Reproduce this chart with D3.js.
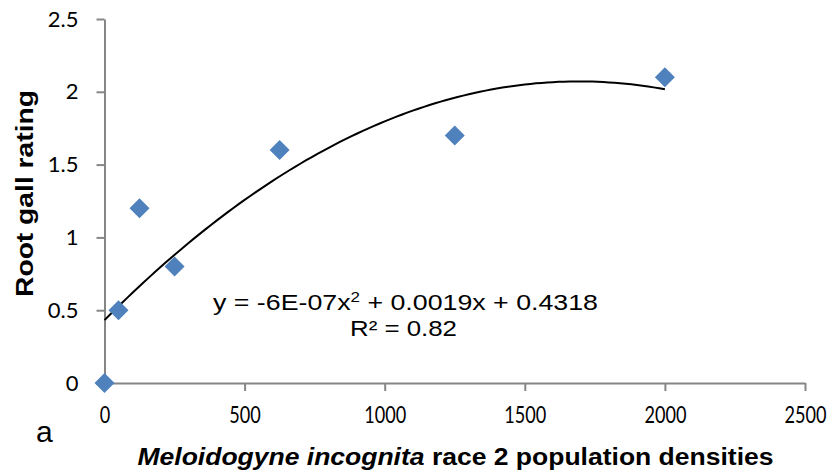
<!DOCTYPE html>
<html>
<head>
<meta charset="utf-8">
<title>Root gall rating</title>
<script src="https://d3js.org/d3.v7.min.js"></script>
<style>
  body { margin: 0; background: #fff; }
  .tick text { font-family: Lato, "Open Sans", sans-serif; fill: #000; }
  .ttl { font-family: "Liberation Sans", Arial, sans-serif; fill: #000; }
</style>
</head>
<body>
<svg id="chart" width="836" height="476"></svg>
<script>
// data
var densities = [0, 50, 125, 250, 625, 1250, 2000];
var gallRating = [0, 0.5, 1.2, 0.8, 1.6, 1.7, 2.1];
var xTicks = [0, 500, 1000, 1500, 2000, 2500];
var yTicks = [0, 0.5, 1, 1.5, 2, 2.5];
var eqText = ["y = -6E-07x", "2", " + 0.0019x + 0.4318"];
var r2Text = "R\u00b2 = 0.82";

var svg = d3.select("#chart");
var x = d3.scaleLinear().domain([0, 2500]).range([104.5, 805]);
var y = d3.scaleLinear().domain([0, 2.5]).range([383, 19]);

// axes
var gx = svg.append("g").attr("transform", "translate(0,383)")
  .call(d3.axisBottom(x).tickValues(xTicks).tickSize(8).tickPadding(17).tickSizeOuter(0)
    .tickFormat(function(d) { return d; }));
var gy = svg.append("g").attr("transform", "translate(104.5,0)")
  .call(d3.axisLeft(y).tickValues(yTicks).tickSize(8).tickPadding(18).tickSizeOuter(0)
    .tickFormat(function(d) { return d; }));
[gx, gy].forEach(function(g) {
  g.select(".domain").attr("stroke", "#868686").attr("stroke-width", 2);
  g.selectAll(".tick line").attr("stroke", "#868686").attr("stroke-width", 2);
});
gx.selectAll(".tick text").attr("font-size", 24).attr("dy", "0.62em")
  .attr("textLength", function(d) { return String(d).length * 10.5; })
  .attr("lengthAdjust", "spacingAndGlyphs");
gy.selectAll(".tick text").attr("font-size", 22);

// quadratic least squares trendline (like the spreadsheet)
function polyFit(xs, ys) {
  var n = xs.length, s = [0,0,0,0,0], t = [0,0,0];
  for (var i = 0; i < n; i++) {
    var p = 1;
    for (var k = 0; k < 5; k++) { s[k] += p; if (k < 3) t[k] += p * ys[i]; p *= xs[i]; }
  }
  var m = [[s[0], s[1], s[2], t[0]], [s[1], s[2], s[3], t[1]], [s[2], s[3], s[4], t[2]]];
  for (var c = 0; c < 3; c++) {
    for (var r = c + 1; r < 3; r++) {
      var f = m[r][c] / m[c][c];
      for (var j = c; j < 4; j++) m[r][j] -= f * m[c][j];
    }
  }
  var b = [0,0,0];
  for (var r2 = 2; r2 >= 0; r2--) {
    var v = m[r2][3];
    for (var j2 = r2 + 1; j2 < 3; j2++) v -= m[r2][j2] * b[j2];
    b[r2] = v / m[r2][r2];
  }
  return b;
}
var coef = polyFit(densities, gallRating);
var curveX = d3.range(0, 2001, 20);
svg.append("path")
  .datum(curveX)
  .attr("fill", "none")
  .attr("stroke", "#000")
  .attr("stroke-width", 2)
  .attr("d", d3.line()
    .x(function(d) { return x(d); })
    .y(function(d) { return y(coef[0] + coef[1] * d + coef[2] * d * d); }));

// markers
svg.selectAll("path.pt")
  .data(densities)
  .enter().append("path")
  .attr("class", "pt")
  .attr("d", d3.symbol(d3.symbolSquare, 200))
  .attr("fill", "#4F81BD")
  .attr("transform", function(d, i) {
    return "translate(" + x(d) + "," + y(gallRating[i]) + ") rotate(45)";
  });

// equation
var eq = svg.append("text").attr("class", "ttl")
  .attr("x", 405.5).attr("y", 310).attr("text-anchor", "middle")
  .attr("font-size", 22)
  .attr("textLength", 385).attr("lengthAdjust", "spacingAndGlyphs");
eq.append("tspan").text(eqText[0]);
eq.append("tspan").attr("dy", -8).attr("font-size", 14).text(eqText[1]);
eq.append("tspan").attr("dy", 8).text(eqText[2]);

svg.append("text").attr("class", "ttl")
  .attr("x", 403.5).attr("y", 336).attr("text-anchor", "middle")
  .attr("font-size", 22)
  .attr("textLength", 107).attr("lengthAdjust", "spacingAndGlyphs")
  .text(r2Text);

// axis titles
var xt = svg.append("text").attr("class", "ttl")
  .attr("x", 455.5).attr("y", 465).attr("text-anchor", "middle")
  .attr("font-size", 23).attr("font-weight", "bold")
  .attr("textLength", 636).attr("lengthAdjust", "spacingAndGlyphs");
xt.append("tspan").attr("font-style", "italic").text("Meloidogyne incognita");
xt.append("tspan").text(" race 2 population densities");

svg.append("text").attr("class", "ttl")
  .attr("transform", "translate(33,193.5) rotate(-90)")
  .attr("text-anchor", "middle")
  .attr("font-size", 24).attr("font-weight", "bold")
  .attr("textLength", 207).attr("lengthAdjust", "spacingAndGlyphs")
  .text("Root gall rating");

// panel letter
svg.append("text").attr("class", "ttl")
  .attr("x", 36).attr("y", 442)
  .attr("font-size", 30)
  .text("a");
</script>
</body>
</html>
